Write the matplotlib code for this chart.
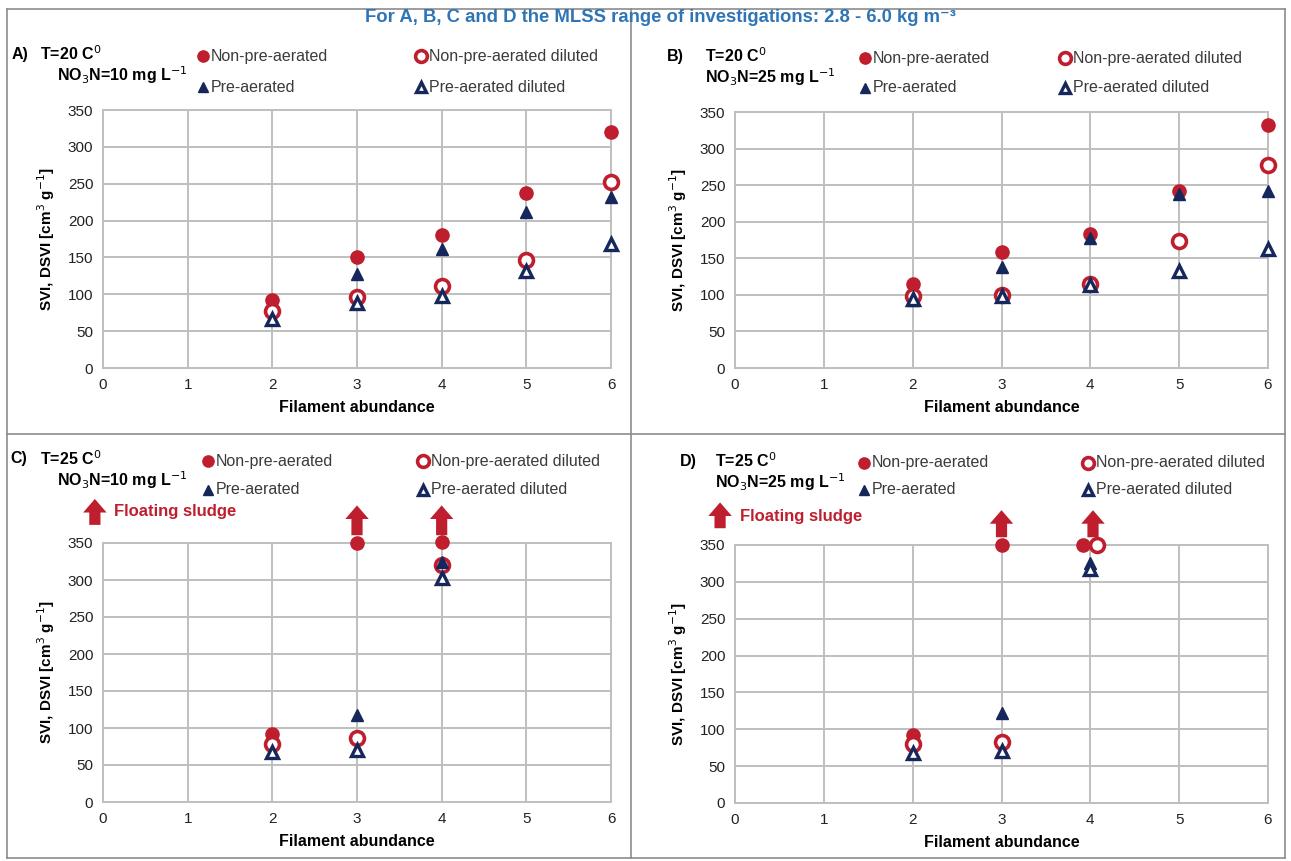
import matplotlib
matplotlib.use("Agg")
import matplotlib.pyplot as plt
from matplotlib.lines import Line2D

plt.rcParams["font.family"] = ["Liberation Sans", "DejaVu Sans"]

W, H = 1291, 861
RED = "#BE1E2D"
NAVY = "#16275C"
GRID = "#BFBFBF"
TXT = "#3A3A3A"

# ---- data -------------------------------------------------------------
series_names = ["Non-pre-aerated", "Non-pre-aerated diluted",
                "Pre-aerated", "Pre-aerated diluted"]

a_x = [2, 3, 4, 5, 6]
a_nonpre = [92, 150, 180, 238, 320]
a_nonpre_dil = [78, 96, 111, 147, 253]
a_pre = [67, 128, 162, 212, 232]
a_pre_dil = [67, 88, 98, 132, 168]

b_x = [2, 3, 4, 5, 6]
b_nonpre = [115, 158, 183, 242, 332]
b_nonpre_dil = [98, 100, 115, 173, 278]
b_pre = [93, 138, 178, 238, 242]
b_pre_dil = [95, 98, 113, 133, 163]

c_x = [2, 3, 4]
c_nonpre = [92, 350, 352]
c_nonpre_dil = [78, 87, 320]
c_pre = [68, 117, 325]
c_pre_dil = [68, 70, 303]

d_x_nonpre = [2, 3, 3.92]
d_x_dil = [2, 3, 4.08]
d_x = [2, 3, 4]
d_nonpre = [92, 350, 350]
d_nonpre_dil = [80, 83, 350]
d_pre = [68, 122, 325]
d_pre_dil = [68, 70, 318]

# floating sludge arrows (x position of the flagged points)
c_float_x = [3, 4]
d_float_x = [3, 4.03]

x_ticks = [0, 1, 2, 3, 4, 5, 6]
y_ticks = [0, 50, 100, 150, 200, 250, 300, 350]

# ---- styles -------------------------------------------------------------
styles = [
    dict(marker="o", color=RED, mfc=RED, mec=RED, ms=9.5, mew=1),
    dict(marker="o", color=RED, mfc="white", mec=RED, ms=10, mew=2.6),
    dict(marker="^", color=NAVY, mfc=NAVY, mec=NAVY, ms=9, mew=1),
    dict(marker="^", color=NAVY, mfc="white", mec=NAVY, ms=9, mew=2.4),
]


def px(x, y):
    return x / W, 1 - y / H


fig = plt.figure(figsize=(W / 100, H / 100), dpi=100)

# frame and dividers
for (x0, y0, x1, y1) in [(7, 9, 1285, 9), (7, 858, 1285, 858), (7, 9, 7, 858),
                         (1285, 9, 1285, 858), (631, 9, 631, 858), (7, 434, 1285, 434)]:
    a, b = px(x0, y0)
    c, d = px(x1, y1)
    fig.add_artist(Line2D([a, c], [b, d], color="#8C8C8C", lw=1.2))

fig.text(*px(660, 18), "For A, B, C and D the MLSS range of investigations: 2.8 - 6.0 kg m⁻³",
         color="#2F75B5", fontsize=13.3, fontweight="bold", ha="center", va="center")


def make_axes(left, top, right, bottom):
    l, t = px(left, top)
    r, b = px(right, bottom)
    ax = fig.add_axes([l, b, r - l, t - b])
    ax.set_xlim(0, 6)
    ax.set_ylim(0, 350)
    ax.set_xticks(x_ticks)
    ax.set_yticks(y_ticks)
    ax.grid(True, color=GRID, lw=1.4)
    ax.set_axisbelow(True)
    for s in ax.spines.values():
        s.set_color(GRID)
        s.set_linewidth(1.4)
    ax.tick_params(length=0, labelsize=11, pad=7, colors="#222222")
    ax.set_xlabel("Filament abundance", fontsize=11.5, fontweight="bold", labelpad=6)
    ax.set_ylabel("SVI, DSVI [cm$^3$ g$^{-1}$]", fontsize=11, fontweight="bold", labelpad=8)
    return ax


def scatter(ax, xs, ys_list):
    for (x, y), st in zip(zip(xs, ys_list), styles):
        ax.plot(x, y, ls="none", clip_on=False, zorder=3, **st)


def legend(label, lx, cond_x, t_line, n_line, m1x, m2x, y1, y2):
    fig.text(*px(lx, y1 - 2), label, fontsize=11.5, fontweight="bold", va="center")
    fig.text(*px(cond_x, y1 - 2), t_line, fontsize=11.5, fontweight="bold", va="center")
    fig.text(*px(cond_x + (17 if label in ("A)", "C)") else 0), y1 + 19), n_line,
             fontsize=11.5, fontweight="bold", va="center")
    pos = [(m1x, y1), (m2x, y1), (m1x, y2), (m2x, y2)]
    for (mx, my), st, name in zip(pos, styles, series_names):
        st2 = dict(st)
        st2["ms"] = st2["ms"] * 0.85
        a, b = px(mx, my)
        fig.add_artist(Line2D([a], [b], ls="none", **st2))
        fig.text(*px(mx + 8, my), name, fontsize=11.5, color=TXT, va="center")


def up_arrow(ax, x, y0, y1, coords=("data", "axes fraction")):
    ax.annotate("", xy=(x, y1), xytext=(x, y0), xycoords=coords, textcoords=coords,
                arrowprops=dict(arrowstyle="simple,head_width=1.3,head_length=0.75,tail_width=0.62",
                                mutation_scale=13, color=RED, lw=0, shrinkA=0, shrinkB=0),
                annotation_clip=False)


# A
axA = make_axes(103, 110, 611, 368)
scatter(axA, [a_x] * 4, [a_nonpre, a_nonpre_dil, a_pre, a_pre_dil])
legend("A)", 12, 40, "T=20 C$^{0}$", "NO$_3$N=10 mg L$^{-1}$", 203, 421, 56, 87)

# B
axB = make_axes(735, 112, 1268, 368)
scatter(axB, [b_x] * 4, [b_nonpre, b_nonpre_dil, b_pre, b_pre_dil])
legend("B)", 667, 705, "T=20 C$^{0}$", "NO$_3$N=25 mg L$^{-1}$", 865, 1065, 58, 88)

# C
axC = make_axes(103, 543, 611, 802)
scatter(axC, [c_x] * 4, [c_nonpre, c_nonpre_dil, c_pre, c_pre_dil])
legend("C)", 10, 40, "T=25 C$^{0}$", "NO$_3$N=10 mg L$^{-1}$", 208, 423, 461, 490)
for fx in c_float_x:
    up_arrow(axC, fx, 1.03, 1.145)
up_arrow(axC, -0.016, 1.07, 1.17, coords="axes fraction")
axC.text(0.022, 1.12, "Floating sludge", transform=axC.transAxes, color=RED,
         fontsize=12, fontweight="bold", va="center")

# D
axD = make_axes(735, 545, 1268, 803)
scatter(axD, [d_x_nonpre, d_x_dil, d_x, d_x], [d_nonpre, d_nonpre_dil, d_pre, d_pre_dil])
legend("D)", 680, 715, "T=25 C$^{0}$", "NO$_3$N=25 mg L$^{-1}$", 864, 1088, 463, 490)
for fx in d_float_x:
    up_arrow(axD, fx, 1.03, 1.135)
up_arrow(axD, -0.028, 1.065, 1.165, coords="axes fraction")
axD.text(0.01, 1.11, "Floating sludge", transform=axD.transAxes, color=RED,
         fontsize=12, fontweight="bold", va="center")

fig.savefig("out.png", dpi=100)
